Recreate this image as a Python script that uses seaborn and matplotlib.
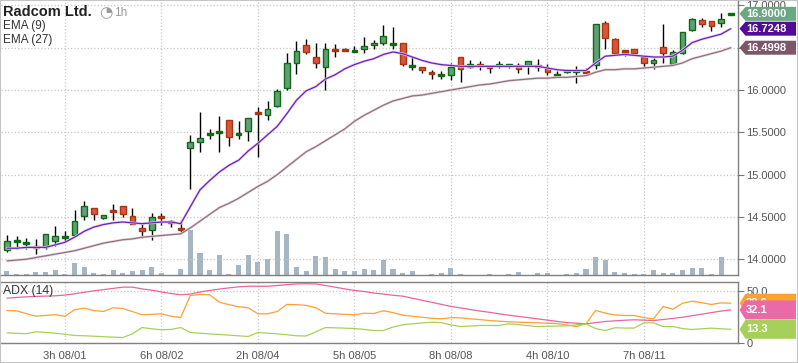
import matplotlib
matplotlib.use("Agg")
import matplotlib.pyplot as plt
from matplotlib.patches import Polygon, Rectangle
from matplotlib.ticker import FormatStrFormatter
import matplotlib.patheffects as pe
import numpy as np
import pandas as pd
import seaborn as sns

sns.set_style("white")
plt.rcParams['font.family'] = ['Liberation Sans', 'DejaVu Sans']

# hourly candles, Radcom Ltd.
opens = [14.11, 14.21, 14.185, 14.155, 14.15, 14.22, 14.26, 14.29, 14.51, 14.60,
         14.49, 14.575, 14.625, 14.515, 14.365, 14.35, 14.505, 14.45, 14.365, 15.31,
         15.39, 15.48, 15.50, 15.65, 15.48, 15.51, 15.735, 15.71, 15.81, 16.02,
         16.32, 16.53, 16.385, 16.27, 16.48, 16.48, 16.46, 16.49, 16.53, 16.55,
         16.54, 16.555, 16.28, 16.27, 16.21, 16.175, 16.18, 16.385, 16.275, 16.30,
         16.275, 16.285, 16.285, 16.29, 16.30, 16.29, 16.265, 16.175, 16.22, 16.22,
         16.22, 16.30, 16.79, 16.60, 16.46, 16.48, 16.395, 16.315, 16.505, 16.305,
         16.44, 16.71, 16.825, 16.81, 16.79, 16.89]
highs = [14.29, 14.28, 14.25, 14.24, 14.30, 14.39, 14.33, 14.58, 14.69, 14.60,
         14.52, 14.65, 14.625, 14.61, 14.415, 14.55, 14.55, 14.46, 14.46, 15.47,
         15.74, 15.54, 15.69, 15.65, 15.63, 15.665, 15.80, 15.87, 16.01, 16.44,
         16.58, 16.60, 16.555, 16.555, 16.545, 16.50, 16.52, 16.63, 16.59, 16.77,
         16.745, 16.555, 16.395, 16.27, 16.24, 16.23, 16.32, 16.385, 16.355, 16.345,
         16.30, 16.34, 16.31, 16.32, 16.34, 16.37, 16.305, 16.225, 16.245, 16.28,
         16.26, 16.78, 16.81, 16.61, 16.47, 16.48, 16.395, 16.38, 16.78, 16.47,
         16.69, 16.85, 16.85, 16.81, 16.905, 16.90]
lows = [14.09, 14.12, 14.12, 14.06, 14.12, 14.16, 14.20, 14.27, 14.46, 14.46,
        14.47, 14.46, 14.50, 14.415, 14.245, 14.23, 14.41, 14.38, 14.305, 14.83,
        15.27, 15.42, 15.27, 15.34, 15.42, 15.40, 15.21, 15.64, 15.80, 16.00,
        16.19, 16.43, 16.265, 16.00, 16.385, 16.46, 16.455, 16.44, 16.49, 16.535,
        16.49, 16.285, 16.24, 16.205, 16.135, 16.135, 16.12, 16.10, 16.26, 16.24,
        16.20, 16.26, 16.265, 16.20, 16.19, 16.22, 16.18, 16.16, 16.20, 16.085,
        16.20, 16.25, 16.485, 16.42, 16.40, 16.42, 16.265, 16.25, 16.315, 16.29,
        16.42, 16.70, 16.75, 16.70, 16.75, 16.885]
closes = [14.21, 14.225, 14.195, 14.145, 14.30, 14.27, 14.265, 14.45, 14.63, 14.53,
          14.52, 14.565, 14.53, 14.415, 14.33, 14.50, 14.495, 14.43, 14.355, 15.38,
          15.43, 15.49, 15.51, 15.45, 15.49, 15.665, 15.72, 15.78, 15.99, 16.32,
          16.46, 16.45, 16.325, 16.49, 16.47, 16.47, 16.47, 16.515, 16.555, 16.64,
          16.55, 16.305, 16.29, 16.235, 16.20, 16.185, 16.27, 16.25, 16.305, 16.285,
          16.265, 16.30, 16.30, 16.25, 16.34, 16.28, 16.21, 16.185, 16.23, 16.23,
          16.21, 16.78, 16.62, 16.44, 16.45, 16.44, 16.315, 16.355, 16.435, 16.455,
          16.69, 16.835, 16.775, 16.76, 16.835, 16.90]
volumes = [4300, 1300, 1300, 3300, 3300, 5300, 1300, 12300, 8300, 2300,
           1300, 5300, 2500, 4300, 5300, 8300, 2300, 0, 6300, 45300,
           22300, 5300, 20300, 1300, 10300, 20300, 13300, 16300, 44300, 41300,
           8300, 4300, 19300, 18300, 6300, 4300, 4300, 6300, 5300, 15300,
           6300, 2300, 4300, 0, 1300, 2300, 7300, 1300, 0, 0,
           1300, 0, 1300, 3300, 0, 2300, 2300, 0, 1300, 2300,
           6300, 18300, 15300, 3300, 2300, 1300, 1300, 5300, 2300, 2300,
           5300, 7300, 7300, 1300, 18300, 0]
ema9 = [14.13, 14.13, 14.14, 14.14, 14.14, 14.17, 14.20, 14.26, 14.33, 14.38,
        14.41, 14.43, 14.44, 14.43, 14.42, 14.43, 14.44, 14.44, 14.42, 14.62,
        14.82, 14.93, 15.03, 15.11, 15.17, 15.28, 15.37, 15.47, 15.57, 15.72,
        15.88, 15.99, 16.04, 16.13, 16.18, 16.25, 16.30, 16.34, 16.37, 16.42,
        16.45, 16.43, 16.39, 16.35, 16.32, 16.30, 16.29, 16.28, 16.28, 16.28,
        16.28, 16.28, 16.28, 16.28, 16.28, 16.28, 16.26, 16.24, 16.23, 16.23,
        16.23, 16.32, 16.40, 16.41, 16.42, 16.41, 16.40, 16.39, 16.39, 16.40,
        16.47, 16.56, 16.60, 16.63, 16.66, 16.7248]
ema27 = [13.98, 13.99, 14.00, 14.02, 14.04, 14.06, 14.08, 14.10, 14.13, 14.16,
         14.19, 14.21, 14.23, 14.24, 14.26, 14.27, 14.28, 14.29, 14.30, 14.37,
         14.45, 14.53, 14.61, 14.66, 14.72, 14.79, 14.86, 14.92, 15.00, 15.09,
         15.18, 15.27, 15.33, 15.40, 15.47, 15.54, 15.63, 15.70, 15.76, 15.82,
         15.87, 15.90, 15.93, 15.94, 15.96, 15.98, 16.00, 16.02, 16.04, 16.06,
         16.07, 16.09, 16.11, 16.12, 16.13, 16.14, 16.14, 16.15, 16.15, 16.16,
         16.17, 16.21, 16.24, 16.24, 16.25, 16.25, 16.26, 16.27, 16.28, 16.29,
         16.32, 16.37, 16.40, 16.43, 16.46, 16.4998]
adx = [43.5, 44.2, 44.8, 45.2, 45.5, 45.8, 46.5, 47.8, 49.2, 50.6,
       51.8, 53.0, 54.2, 54.2, 52.5, 51.3, 49.5, 48.0, 46.8, 47.5,
       49.5, 51.0, 52.3, 53.5, 54.5, 55.1, 55.1, 55.1, 55.8, 56.6,
       57.3, 57.5, 57.3, 55.8, 54.2, 52.5, 51.0, 50.0, 48.5, 47.5,
       46.3, 45.5, 43.5, 41.5, 39.5, 37.5, 35.5, 34.0, 32.5, 31.0,
       29.8, 28.3, 27.0, 25.8, 24.6, 23.4, 22.2, 21.0, 19.8, 19.2,
       18.6, 19.8, 20.9, 21.5, 22.1, 22.5, 22.2, 21.8, 22.8, 23.9,
       25.0, 26.5, 28.0, 29.5, 31.0, 32.1]
plus_di = [31.5, 31.2, 28.5, 26.0, 26.8, 27.5, 26.0, 32.2, 33.8, 31.5,
           30.6, 34.2, 33.5, 30.5, 27.4, 27.8, 28.3, 26.0, 24.8, 46.1,
           47.1, 46.8, 39.6, 37.2, 35.2, 34.2, 28.3, 28.3, 30.6, 37.4,
           37.2, 36.5, 34.2, 28.9, 28.3, 27.8, 27.4, 28.9, 28.6, 31.3,
           29.5, 27.0, 26.0, 25.0, 24.0, 23.5, 24.5, 24.4, 23.5, 22.7,
           21.8, 21.2, 20.6, 20.2, 19.9, 19.6, 19.2, 18.8, 17.5, 16.0,
           18.6, 31.6, 29.0, 27.3, 26.7, 26.7, 24.5, 23.5, 35.4, 32.8,
           38.6, 40.6, 39.0, 37.4, 39.0, 38.6]
minus_di = [9.8, 9.4, 9.0, 10.9, 10.2, 9.5, 8.5, 7.3, 7.0, 6.6,
            6.1, 5.7, 5.3, 8.9, 15.0, 13.8, 12.8, 13.2, 15.0, 10.2,
            9.5, 8.8, 8.3, 7.6, 7.0, 6.3, 10.2, 9.5, 8.9, 8.0,
            7.0, 6.8, 10.8, 15.0, 14.7, 14.4, 14.1, 13.2, 12.1, 12.1,
            15.5, 17.6, 18.6, 19.4, 20.2, 19.8, 17.5, 16.0, 16.5, 17.0,
            17.0, 17.0, 18.6, 17.8, 16.8, 16.0, 16.2, 16.4, 16.6, 17.6,
            18.6, 14.0, 12.1, 14.8, 14.5, 14.5, 19.6, 19.6, 16.0, 16.0,
            14.0, 13.1, 13.8, 14.4, 13.8, 13.3]
tick_pos = [6, 16, 26, 36, 46, 56, 66]
tick_labels = ["3h 08/01", "6h 08/02", "2h 08/04", "5h 08/05", "8h 08/08", "4h 08/10", "7h 08/11"]

df = pd.DataFrame({"idx": np.arange(len(closes)), "open": opens, "high": highs, "low": lows,
                   "close": closes, "volume": volumes, "ema9": ema9, "ema27": ema27,
                   "adx": adx, "plus": plus_di, "minus": minus_di})

W, H = 798, 363
fig = plt.figure(figsize=(W / 100, H / 100), dpi=100)


def px(l, t, w, h):
    return [l / W, 1 - (t + h) / H, w / W, h / H]


ax = fig.add_axes(px(1, 1, 737, 274.3))
ax_adx = fig.add_axes(px(1, 282, 737, 61))
ax_vol = ax.twinx()
ax.set_zorder(ax_vol.get_zorder() + 1)
ax.patch.set_visible(False)

# volume
ax_vol.bar(df.idx, df.volume, width=0.52, color="#a5b5c2", linewidth=0)
ax_vol.set_ylim(0, 274300)
ax_vol.axis("off")

# candles
up = df.close >= df.open
doji = (df.close - df.open).abs() < 0.02
mid = (df.open + df.close) / 2
body_h = np.where(doji, 0.024, (df.close - df.open).abs())
body_b = np.where(doji, mid - 0.012, np.minimum(df.open, df.close))
edges = np.where(up, "#0d6b12", "#a8360f")
faces = np.where(doji, edges, np.where(up, "#619f77", "#d9543e"))
ax.vlines(df.idx, df.low, df.high, colors="black", lw=1.0, zorder=2)
ax.bar(df.idx, body_h, bottom=body_b, width=0.6, color=faces, edgecolor=edges, linewidth=1.0, zorder=3)

# EMAs
sns.lineplot(data=df, x="idx", y="ema27", ax=ax, color="#917080", lw=0.9, zorder=4,
             path_effects=[pe.Stroke(linewidth=1.9, foreground="#e6d9df"), pe.Normal()])
sns.lineplot(data=df, x="idx", y="ema9", ax=ax, color="#6f22b4", lw=0.9, zorder=4,
             path_effects=[pe.Stroke(linewidth=1.9, foreground="#ddcdef"), pe.Normal()])

ax.set_xlim(-0.62, 75.75)
ax.set_ylim(13.81, 17.052)
ax.yaxis.tick_right()
ax.set_yticks([14.0, 14.5, 15.0, 15.5, 16.0, 16.5, 17.0])
ax.yaxis.set_major_formatter(FormatStrFormatter("%.4f"))
ax.set_xticks(tick_pos)
ax.set_xticklabels([])
ax.tick_params(axis="x", length=0)
ax.tick_params(axis="y", direction="out", length=4, width=0.8, color="#777",
               labelsize=8, labelcolor="#555", pad=2)
ax.grid(True, ls=":", color="#c6c6c6", lw=0.9)
ax.set_xlabel("")
ax.set_ylabel("")
for s in ["left", "top"]:
    ax.spines[s].set_visible(False)
for s in ["right", "bottom"]:
    ax.spines[s].set_color("#808080")
    ax.spines[s].set_linewidth(1.0)

# ADX panel
sns.lineplot(data=df, x="idx", y="adx", ax=ax_adx, color="#e9659f", lw=0.9)
sns.lineplot(data=df, x="idx", y="plus", ax=ax_adx, color="#ffa035", lw=0.9)
sns.lineplot(data=df, x="idx", y="minus", ax=ax_adx, color="#a7d05a", lw=0.9)
ax_adx.set_xlim(-0.62, 75.75)
ax_adx.set_ylim(0, 59.2)
ax_adx.yaxis.tick_right()
ax_adx.set_yticks([0, 50])
ax_adx.set_yticklabels(["0", "50.0"])
ax_adx.set_xticks(tick_pos)
ax_adx.set_xticklabels(tick_labels)
ax_adx.tick_params(axis="both", direction="out", length=4, width=0.8, color="#777",
                   labelsize=8, labelcolor="#555", pad=2)
ax_adx.grid(True, ls=":", color="#c6c6c6", lw=0.9)
ax_adx.set_xlabel("")
ax_adx.set_ylabel("")
ax_adx.spines["left"].set_visible(False)
for s in ["right", "bottom", "top"]:
    ax_adx.spines[s].set_color("#808080")
    ax_adx.spines[s].set_linewidth(1.0)

tag_z = [5]


def tag(axis, val, txt, color, h):
    # value box on the right, later boxes sit on top of earlier ones
    y = fig.transFigure.inverted().transform(axis.transData.transform((0, val)))[1]
    hh = h / 2 / H
    z = tag_z[0]
    tag_z[0] += 1
    pts = [(739.5 / W, y), (745.5 / W, y + hh), (796 / W, y + hh), (796 / W, y - hh), (745.5 / W, y - hh)]
    fig.add_artist(Polygon(pts, closed=True, transform=fig.transFigure,
                           facecolor=color, edgecolor="none", zorder=z))
    fig.text(746 / W, y, txt, color="white", fontsize=8, fontweight="bold",
             ha="left", va="center", zorder=z + 0.5)


tag(ax, closes[-1], f"{closes[-1]:.4f}", "#69a883", 14)
tag(ax, ema9[-1], f"{ema9[-1]:.4f}", "#520c98", 14)
tag(ax, ema27[-1], f"{ema27[-1]:.4f}", "#7d5768", 14)
tag(ax_adx, plus_di[-1], f"{plus_di[-1]:.1f}", "#ffa035", 19)
tag(ax_adx, adx[-1], f"{adx[-1]:.1f}", "#e96aa6", 19)
tag(ax_adx, minus_di[-1], f"{minus_di[-1]:.1f}", "#a7d05a", 19)

# headers
fig.text(3 / W, 1 - 12 / H, "Radcom Ltd.", fontsize=10.5, fontweight="bold", color="#222", va="center")
fig.text(99 / W, 1 - 12.5 / H, "\u25D4", fontsize=11, color="#999", va="center",
         family=["DejaVu Sans"])
fig.text(114 / W, 1 - 12.5 / H, "1h", fontsize=8.5, color="#999", va="center")
fig.text(3 / W, 1 - 26 / H, "EMA (9)", fontsize=8.5, color="#333", va="center")
fig.text(3 / W, 1 - 40 / H, "EMA (27)", fontsize=8.5, color="#333", va="center")
fig.text(3 / W, 1 - 291 / H, "ADX (14)", fontsize=8.8, color="#333", va="center")

fig.add_artist(Rectangle((0, 0), 1, 1, transform=fig.transFigure, fill=False,
                         edgecolor="#c4c4c4", lw=1.5))

fig.savefig("out.png", dpi=100)
